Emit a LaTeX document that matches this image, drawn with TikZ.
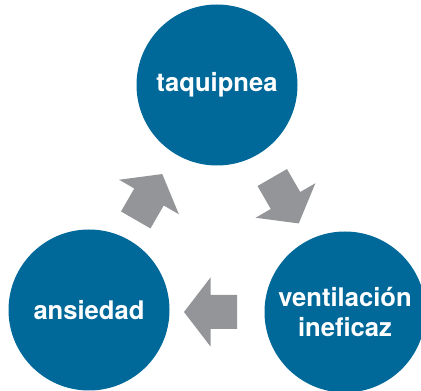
\documentclass[tikz,border=0pt]{standalone}
\usepackage{fontspec}
\setmainfont{TeX Gyre Heros}
\usepackage{tikz}

\definecolor{azul}{RGB}{0,105,153}
\definecolor{gris}{RGB}{147,149,152}

\tikzset{
  circulo/.style={circle, fill=azul, draw=none, minimum size=161pt, inner sep=0pt,
    text=white, align=center, font=\bfseries\fontsize{25.6}{30.7}\selectfont},
  pics/flecha/.style={code={
    \fill[gris] (-26.5,-17) -- (0,-17) -- (0,-34.5) -- (26.5,0) -- (0,34.5) -- (0,17) -- (-26.5,17) -- cycle;
  }}
}

\begin{document}
\begin{tikzpicture}[x=1pt, y=1pt]
      \useasboundingbox (0,0) rectangle (421,391);
      \node[circulo] (taq) at (217,306) {taquipnea};
      \node[circulo] (ans) at (89,81) {ansiedad};
      \node[circulo] (ven) at (345,79) {ventilación\\ineficaz};
      % flechas del ciclo
      \coordinate (f1) at (149,194);
      \coordinate (f2) at (285.5,190.5);
      \coordinate (f3) at (210.5,79);
      \pic[rotate=60] at (f1) {flecha};
      \pic[rotate=-60] at (f2) {flecha};
      \pic[rotate=180] at (f3) {flecha};
    \end{tikzpicture}
\end{document}
